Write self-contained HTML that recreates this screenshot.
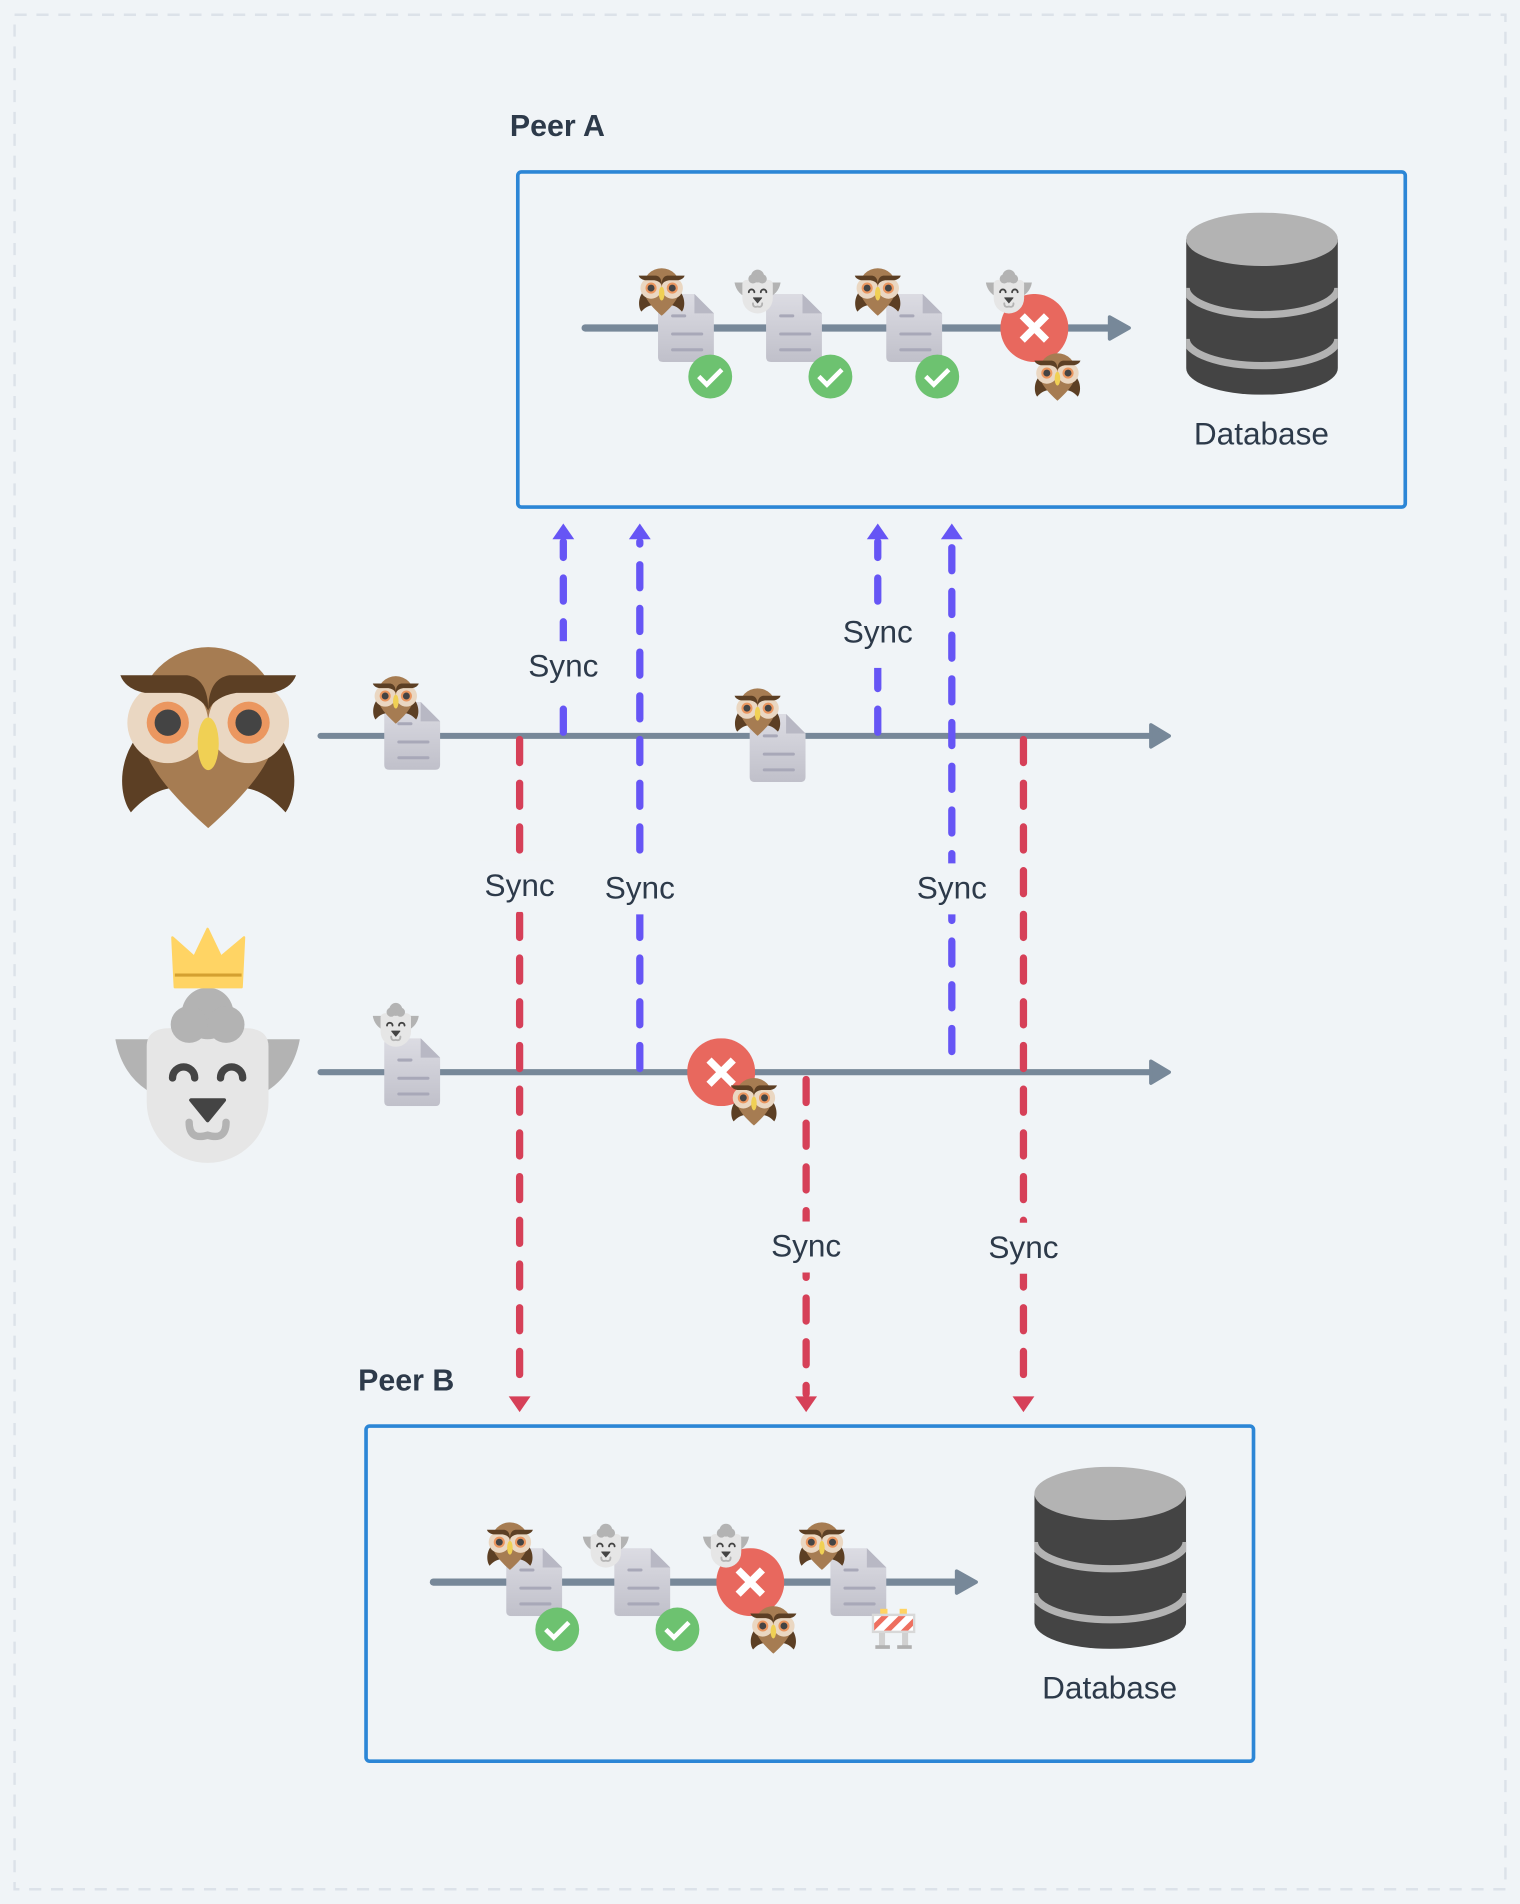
<!DOCTYPE html>
<html><head><meta charset="utf-8"><style>
html,body{margin:0;padding:0;background:#F0F4F7;}
svg{display:block;}
text{font-family:"Liberation Sans",sans-serif;}
</style></head><body>
<svg width="1520" height="1904" viewBox="0 0 1252 1568" xmlns="http://www.w3.org/2000/svg">
<defs>
<linearGradient id="dg" x1="0" y1="0" x2="0" y2="1"><stop offset="0" stop-color="#DCDCE3"/><stop offset="1" stop-color="#C0C0CA"/></linearGradient>
<symbol id="owl" viewBox="0 0 100 105">
<path d="M8,55 C-2,70 0,88 6,96 C15,86 24,82 32,82 Z" fill="#5C3F24"/>
<path d="M92,55 C102,70 100,88 94,96 C85,86 76,82 68,82 Z" fill="#5C3F24"/>
<path d="M50,105 C22,80 10,62 10,42 A40,40 0 0 1 90,42 C90,62 78,80 50,105Z" fill="#A67C52"/>
<circle cx="27" cy="45" r="23" fill="#EAD7C2"/><circle cx="73" cy="45" r="23" fill="#EAD7C2"/>
<path d="M0,18 L38,18 Q50,20 50,38 Q46,30 34,28 L14,28 Q3,26 0,18Z" fill="#5C3F24"/>
<path d="M100,18 L62,18 Q50,20 50,38 Q54,30 66,28 L86,28 Q97,26 100,18Z" fill="#5C3F24"/>
<circle cx="27" cy="45" r="12" fill="#EB9760"/><circle cx="73" cy="45" r="12" fill="#EB9760"/>
<circle cx="27" cy="45" r="7.5" fill="#444"/><circle cx="73" cy="45" r="7.5" fill="#444"/>
<ellipse cx="50" cy="57" rx="6" ry="15" fill="#F0D054"/>
</symbol>
<symbol id="goat" viewBox="0 0 100 95">
<path d="M0,28 L30,28 L32,62 Q5,55 0,28Z" fill="#B3B3B3"/>
<path d="M100,28 L70,28 L68,62 Q95,55 100,28Z" fill="#B3B3B3"/>
<path d="M17,32 Q17,22 30,22 L70,22 Q83,22 83,32 L83,62 A33,33 0 0 1 17,62Z" fill="#E6E6E6"/>
<circle cx="50" cy="14" r="14" fill="#B3B3B3"/><circle cx="40" cy="20" r="10" fill="#B3B3B3"/><circle cx="60" cy="20" r="10" fill="#B3B3B3"/>
<path d="M31,49 A6,6 0 0 1 43,49" stroke="#444" stroke-width="4" fill="none" stroke-linecap="round"/>
<path d="M57,49 A6,6 0 0 1 69,49" stroke="#444" stroke-width="4" fill="none" stroke-linecap="round"/>
<path d="M41,61 L59,61 L50,72Z" fill="#444" stroke="#444" stroke-width="2" stroke-linejoin="round"/>
<path d="M40,73 Q40,83 50,80 Q60,83 60,73" stroke="#B3B3B3" stroke-width="4" fill="none" stroke-linecap="round"/>
</symbol>
<symbol id="doc" viewBox="0 0 46 56">
<path d="M4,0 L30,0 L46,16 L46,52 Q46,56 42,56 L4,56 Q0,56 0,52 L0,4 Q0,0 4,0Z" fill="url(#dg)"/>
<path d="M30,0 L30,16 L46,16Z" fill="#B8B8C4"/>
<path d="M12,18 H22 M12,33 H36 M12,46 H36" stroke="#A8A8B8" stroke-width="2.5" stroke-linecap="round"/>
</symbol>
<symbol id="chk" viewBox="0 0 40 40"><circle cx="20" cy="20" r="19" fill="#6DC270"/><path d="M10,20 L17,27 L30,14" stroke="#fff" stroke-width="4" fill="none"/></symbol>
<symbol id="x" viewBox="0 0 56 56"><circle cx="28" cy="28" r="28" fill="#E8685E"/><path d="M18,18 L38,38 M38,18 L18,38" stroke="#fff" stroke-width="6"/></symbol>
<symbol id="db" viewBox="0 0 125 150">
<path d="M0,22 L125,22 L125,128 A62.5,22 0 0 1 0,128Z" fill="#444"/>
<ellipse cx="62.5" cy="22" rx="62.5" ry="22" fill="#B3B3B3"/>
<path d="M0,62 A62.5,22 0 0 0 125,62" stroke="#B3B3B3" stroke-width="6" fill="none"/>
<path d="M0,104 A62.5,22 0 0 0 125,104" stroke="#B3B3B3" stroke-width="6" fill="none"/>
</symbol>
<symbol id="bar" viewBox="0 0 36 36">
<rect x="7" y="1" width="6" height="5" fill="#FFD464"/><rect x="23" y="1" width="6" height="5" fill="#FFD464"/>
<rect x="6" y="20" width="5" height="12" fill="#D0D0D0"/><rect x="25" y="20" width="5" height="12" fill="#D0D0D0"/>
<rect x="3" y="31" width="12" height="3" fill="#B0B0B0"/><rect x="21" y="31" width="12" height="3" fill="#B0B0B0"/>
<rect x="0" y="5" width="36" height="16" fill="#D8D8D8"/>
<rect x="2" y="7" width="32" height="12" fill="#fff"/>
<path d="M2,13 L8,7 L14,7 L2,19Z M10,19 L22,7 L28,7 L16,19Z M24,19 L34,9 L34,15 L30,19Z" fill="#EE6F5F"/>
</symbol>
<marker id="ap" markerWidth="10" markerHeight="10" refX="5" refY="5" orient="auto" markerUnits="userSpaceOnUse"></marker>
</defs>
<rect x="0" y="0" width="1252" height="1568" fill="#F0F4F7"/>
<rect x="12" y="12" width="1228" height="1544" fill="none" stroke="#DCE2E9" stroke-width="2" stroke-dasharray="10,8"/>

<!-- Peer A -->
<text x="420" y="112" font-size="25" font-weight="bold" fill="#2D3A4A">Peer A</text>
<rect x="426.5" y="141.5" width="731" height="276" rx="3" fill="none" stroke="#2C86D6" stroke-width="3"/>
<line x1="482" y1="270" x2="916" y2="270" stroke="#778899" stroke-width="6" stroke-linecap="round"/>
<path d="M914,261 L930,270 L914,279Z" fill="#778899" stroke="#778899" stroke-width="3" stroke-linejoin="round"/>
<use href="#doc" x="541" y="242" width="48" height="56"/>
<use href="#doc" x="630" y="242" width="48" height="56"/>
<use href="#doc" x="729" y="242" width="48" height="56"/>
<use href="#owl" x="526" y="220" width="38" height="40"/>
<use href="#goat" x="605" y="221" width="38" height="38"/>
<use href="#owl" x="704" y="220" width="38" height="40"/>
<use href="#chk" x="566" y="291" width="38" height="38"/>
<use href="#chk" x="665" y="291" width="38" height="38"/>
<use href="#chk" x="753" y="291" width="38" height="38"/>
<use href="#x" x="824" y="242" width="56" height="56"/>
<use href="#goat" x="812" y="221" width="38" height="38"/>
<use href="#owl" x="852" y="290" width="38" height="40"/>
<use href="#db" x="977" y="175" width="125" height="150"/>
<text x="1039" y="366" font-size="26" fill="#2D3A4A" text-anchor="middle">Database</text>

<!-- Peer B -->
<text x="295" y="1145" font-size="25" font-weight="bold" fill="#2D3A4A">Peer B</text>
<rect x="301.5" y="1174.5" width="731" height="276" rx="3" fill="none" stroke="#2C86D6" stroke-width="3"/>
<line x1="357" y1="1303" x2="790" y2="1303" stroke="#778899" stroke-width="6" stroke-linecap="round"/>
<path d="M788,1294 L804,1303 L788,1312Z" fill="#778899" stroke="#778899" stroke-width="3" stroke-linejoin="round"/>
<use href="#doc" x="416" y="1275" width="48" height="56"/>
<use href="#doc" x="505" y="1275" width="48" height="56"/>
<use href="#doc" x="683" y="1275" width="48" height="56"/>
<use href="#owl" x="401" y="1253" width="38" height="40"/>
<use href="#goat" x="480" y="1254" width="38" height="38"/>
<use href="#owl" x="658" y="1253" width="38" height="40"/>
<use href="#chk" x="440" y="1323" width="38" height="38"/>
<use href="#chk" x="539" y="1323" width="38" height="38"/>
<use href="#x" x="590" y="1275" width="56" height="56"/>
<use href="#goat" x="579" y="1254" width="38" height="38"/>
<use href="#owl" x="618" y="1322" width="38" height="40"/>
<use href="#bar" x="718" y="1324" width="36" height="36"/>
<use href="#db" x="852" y="1208" width="125" height="150"/>
<text x="914" y="1399" font-size="26" fill="#2D3A4A" text-anchor="middle">Database</text>

<!-- big actors -->
<use href="#owl" x="99" y="530" width="145" height="152"/>
<use href="#goat" x="95" y="813" width="152" height="145"/>
<path d="M142,772 L160,788 L171,765 L182,788 L201,772 L199,813 L144,813Z" fill="#FFD464" stroke="#FFD464" stroke-width="2" stroke-linejoin="round"/>
<line x1="144" y1="803" x2="199" y2="803" stroke="#D4A030" stroke-width="2.5"/>

<!-- timelines -->
<line x1="264" y1="606" x2="950" y2="606" stroke="#778899" stroke-width="5" stroke-linecap="round"/>
<path d="M948,597 L963,606 L948,615Z" fill="#778899" stroke="#778899" stroke-width="3" stroke-linejoin="round"/>
<line x1="264" y1="883" x2="950" y2="883" stroke="#778899" stroke-width="5" stroke-linecap="round"/>
<path d="M948,874 L963,883 L948,892Z" fill="#778899" stroke="#778899" stroke-width="3" stroke-linejoin="round"/>

<!-- sync arrows -->
<g fill="none" stroke-width="6" stroke-linecap="round" stroke-dasharray="19,17">
<line x1="464" y1="603" x2="464" y2="446" stroke="#6655F5"/>
<line x1="527" y1="880" x2="527" y2="446" stroke="#6655F5"/>
<line x1="723" y1="603" x2="723" y2="446" stroke="#6655F5"/>
<line x1="784" y1="866" x2="784" y2="446" stroke="#6655F5"/>
<line x1="428" y1="609" x2="428" y2="1148" stroke="#D64058"/>
<line x1="664" y1="889" x2="664" y2="1148" stroke="#D64058"/>
<line x1="843" y1="609" x2="843" y2="1148" stroke="#D64058"/>
</g>
<g fill="#6655F5">
<path d="M455,444 L464,431 L473,444Z"/><path d="M518,444 L527,431 L536,444Z"/>
<path d="M714,444 L723,431 L732,444Z"/><path d="M775,444 L784,431 L793,444Z"/>
</g>
<g fill="#D64058">
<path d="M419,1150 L428,1163 L437,1150Z"/><path d="M655,1150 L664,1163 L673,1150Z"/><path d="M834,1150 L843,1163 L852,1150Z"/>
</g>
<g fill="#F0F4F7">
<rect x="430" y="528" width="68" height="50"/><rect x="689" y="500" width="68" height="50"/>
<rect x="394" y="709" width="68" height="42"/><rect x="493" y="711" width="68" height="42"/>
<rect x="750" y="711" width="68" height="42"/><rect x="630" y="1006" width="68" height="42"/>
<rect x="809" y="1007" width="68" height="42"/>
</g>
<g font-size="26" fill="#2D3A4A" text-anchor="middle">
<text x="464" y="557">Sync</text><text x="723" y="529">Sync</text>
<text x="428" y="738">Sync</text><text x="527" y="740">Sync</text><text x="784" y="740">Sync</text>
<text x="664" y="1035">Sync</text><text x="843" y="1036">Sync</text>
</g>

<!-- owl/goat timeline items -->
<use href="#doc" x="316" y="578" width="47" height="56"/>
<use href="#owl" x="307" y="556" width="38" height="40"/>
<use href="#doc" x="617" y="588" width="47" height="56"/>
<use href="#owl" x="605" y="566" width="38" height="40"/>
<use href="#doc" x="316" y="855" width="47" height="56"/>
<use href="#goat" x="307" y="825" width="38" height="38"/>
<use href="#x" x="566" y="855" width="56" height="56"/>
<use href="#owl" x="602" y="887" width="38" height="40"/>
</svg>
</body></html>
